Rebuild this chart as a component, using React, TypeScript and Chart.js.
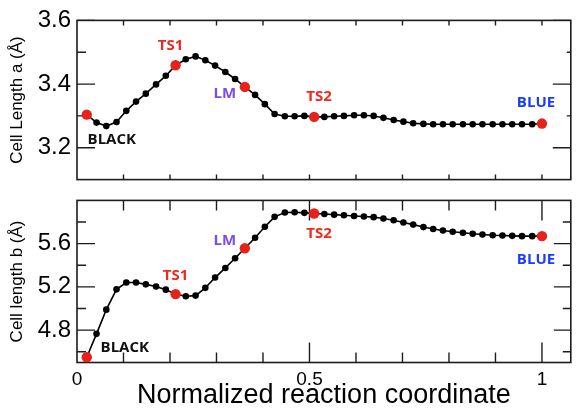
import React, { useEffect, useRef } from "react";
import { Chart, registerables } from "chart.js";

Chart.register(...registerables);

// ---------- data ----------
const coordX = [
  0.021, 0.042, 0.063, 0.085, 0.106, 0.127, 0.148, 0.170, 0.191, 0.212,
  0.234, 0.255, 0.276, 0.297, 0.319, 0.340, 0.361, 0.383, 0.404, 0.425,
  0.447, 0.468, 0.489, 0.510, 0.532, 0.553, 0.574, 0.596, 0.617, 0.638,
  0.659, 0.681, 0.702, 0.723, 0.745, 0.766, 0.787, 0.808, 0.830, 0.851,
  0.872, 0.894, 0.915, 0.936, 0.957, 0.979, 1.000,
];

const cellA = [
  3.304, 3.279, 3.268, 3.281, 3.316, 3.345, 3.370, 3.399, 3.426, 3.459,
  3.478, 3.487, 3.475, 3.458, 3.438, 3.416, 3.391, 3.366, 3.337, 3.306,
  3.299, 3.299, 3.300, 3.297, 3.297, 3.299, 3.300, 3.302, 3.302, 3.300,
  3.294, 3.287, 3.282, 3.277, 3.275, 3.274, 3.274, 3.274, 3.274, 3.274,
  3.274, 3.274, 3.274, 3.274, 3.274, 3.274, 3.276,
];

const cellB = [
  4.549, 4.765, 4.989, 5.177, 5.240, 5.240, 5.223, 5.203, 5.174, 5.133,
  5.113, 5.119, 5.191, 5.286, 5.375, 5.465, 5.557, 5.655, 5.756, 5.848,
  5.888, 5.891, 5.885, 5.879, 5.874, 5.868, 5.862, 5.856, 5.851, 5.845,
  5.833, 5.816, 5.796, 5.776, 5.753, 5.736, 5.721, 5.710, 5.701, 5.692,
  5.684, 5.678, 5.675, 5.672, 5.669, 5.669, 5.669,
];

const stateNames = ["BLACK", "TS1", "LM", "TS2", "BLUE"];
const stateIndex = [0, 9, 16, 23, 46];
const stateColors = ["#111111", "#ee2a1f", "#7a4cf2", "#ee2a1f", "#1a3cff"];

const xTickLabels = [0, 0.5, 1];
const xMajorTicks = [0.5, 1.0];
const xMinorTicks = [0.1, 0.2, 0.3, 0.4, 0.6, 0.7, 0.8, 0.9];
const aTickLabels = [3.2, 3.4, 3.6];
const aMinorTicks = [3.3, 3.5];
const bTickLabels = [4.8, 5.2, 5.6];
const bMinorTicks = [4.6, 5.0, 5.4, 5.8];

// ---------- styling ----------
const FONT = "'Liberation Sans', Arial, Helvetica, sans-serif";
const LABEL_FONT = "bold 15px 'Open Sans', 'DejaVu Sans', sans-serif";
const POINT_RED = "#e5231c";
const FRAME = "#1c1c1c";

type TickSpec = { values: number[]; len: number };
type LabelOffset = { dx: number; dy: number };
type FrameCfg = {
  xTop: TickSpec[];
  xBottom: TickSpec[];
  yLeft: TickSpec[];
  yRight: TickSpec[];
  ys: number[];
  offsets: LabelOffset[];
};

function framePlugin(cfg: FrameCfg) {
  return {
    id: "frame",
    beforeDatasetsDraw(chart: any) {
      const { ctx, chartArea } = chart;
      const { left, right, top, bottom } = chartArea;
      const xs = chart.scales.x;
      const yS = chart.scales.y;
      ctx.save();
      ctx.strokeStyle = FRAME;
      ctx.lineWidth = 1.4;
      ctx.beginPath();
      cfg.xTop.forEach((t) =>
        t.values.forEach((v) => {
          const p = xs.getPixelForValue(v);
          ctx.moveTo(p, top);
          ctx.lineTo(p, top + t.len);
        })
      );
      cfg.xBottom.forEach((t) =>
        t.values.forEach((v) => {
          const p = xs.getPixelForValue(v);
          ctx.moveTo(p, bottom);
          ctx.lineTo(p, bottom - t.len);
        })
      );
      cfg.yLeft.forEach((t) =>
        t.values.forEach((v) => {
          const p = yS.getPixelForValue(v);
          ctx.moveTo(left, p);
          ctx.lineTo(left + t.len, p);
        })
      );
      cfg.yRight.forEach((t) =>
        t.values.forEach((v) => {
          const p = yS.getPixelForValue(v);
          ctx.moveTo(right, p);
          ctx.lineTo(right - t.len, p);
        })
      );
      ctx.stroke();
      ctx.lineWidth = 1.6;
      ctx.strokeRect(left, top, right - left, bottom - top);
      ctx.restore();
    },
    afterDraw(chart: any) {
      const { ctx } = chart;
      const xs = chart.scales.x;
      const yS = chart.scales.y;
      ctx.save();
      ctx.font = LABEL_FONT;
      ctx.textAlign = "center";
      ctx.textBaseline = "middle";
      stateNames.forEach((name, k) => {
        const idx = stateIndex[k];
        const off = cfg.offsets[k];
        const px = xs.getPixelForValue(coordX[idx]) + off.dx;
        const py = yS.getPixelForValue(cfg.ys[idx]) + off.dy;
        ctx.fillStyle = stateColors[k];
        ctx.fillText(name, px, py);
      });
      ctx.restore();
    },
  };
}

function datasetsFor(ys: number[]) {
  return [
    {
      data: coordX.map((x, i) => ({ x, y: ys[i] })),
      showLine: true,
      borderColor: "#000",
      borderWidth: 1.6,
      tension: 0,
      pointRadius: 3.3,
      pointBackgroundColor: "#000",
      pointBorderWidth: 0,
      order: 2,
    },
    {
      data: stateIndex.map((i) => ({ x: coordX[i], y: ys[i] })),
      showLine: false,
      pointRadius: 5.2,
      pointBackgroundColor: POINT_RED,
      pointBorderWidth: 0,
      order: 1,
    },
  ];
}

function yAxis(min: number, max: number, labels: number[], title: string) {
  return {
    type: "linear",
    min,
    max,
    afterBuildTicks: (s: any) => {
      s.ticks = labels.map((v) => ({ value: v }));
    },
    afterFit: (s: any) => {
      s.width = 77;
    },
    grid: { display: false, drawTicks: false },
    border: { display: false },
    ticks: {
      font: { family: FONT, size: 24 },
      color: "#000",
      padding: 6,
      callback: (v: any) => Number(v).toFixed(1),
    },
    title: {
      display: true,
      text: title,
      color: "#000",
      font: { family: FONT, size: 17 },
      padding: { top: 7, bottom: 0 },
    },
  };
}

export default function App() {
  const topRef = useRef<HTMLCanvasElement | null>(null);
  const botRef = useRef<HTMLCanvasElement | null>(null);

  useEffect(() => {
    document.body.style.margin = "0";
    const top = new Chart(topRef.current as HTMLCanvasElement, {
      type: "scatter",
      data: { datasets: datasetsFor(cellA) as any },
      options: {
        responsive: false,
        animation: false,
        layout: { padding: { top: 15, right: 2, bottom: 11.5, left: 0 } },
        plugins: { legend: { display: false }, tooltip: { enabled: false } },
        scales: {
          x: { type: "linear", min: 0, max: 1.062, display: false },
          y: yAxis(3.1, 3.6, aTickLabels, "Cell Length a (Å)") as any,
        },
      },
      plugins: [
        framePlugin({
          xTop: [{ values: [...xMinorTicks, ...xMajorTicks], len: 5 }],
          xBottom: [{ values: [...xMinorTicks, ...xMajorTicks], len: 5 }],
          yLeft: [
            { values: aTickLabels, len: 18 },
            { values: aMinorTicks, len: 9 },
          ],
          yRight: [
            { values: aTickLabels, len: 18 },
            { values: aMinorTicks, len: 4 },
          ],
          ys: cellA,
          offsets: [
            { dx: 25, dy: 25 },
            { dx: -5, dy: -20 },
            { dx: -20, dy: 7 },
            { dx: 5, dy: -20 },
            { dx: -6, dy: -21 },
          ],
        }) as any,
      ],
    });

    const bot = new Chart(botRef.current as HTMLCanvasElement, {
      type: "scatter",
      data: { datasets: datasetsFor(cellB) as any },
      options: {
        responsive: false,
        animation: false,
        layout: { padding: { top: 8.5, right: 2, bottom: 0, left: 0 } },
        plugins: { legend: { display: false }, tooltip: { enabled: false } },
        scales: {
          x: {
            type: "linear",
            min: 0,
            max: 1.062,
            afterBuildTicks: (s: any) => {
              s.ticks = xTickLabels.map((v) => ({ value: v }));
            },
            afterFit: (s: any) => {
              s.height = 48.5;
            },
            grid: { display: false, drawTicks: false },
            border: { display: false },
            ticks: {
              font: { family: FONT, size: 19 },
              color: "#000",
              padding: 6,
              autoSkip: false,
              maxRotation: 0,
              callback: (v: any) => String(v),
            },
            title: {
              display: true,
              text: "Normalized reaction coordinate",
              color: "#000",
              font: { family: FONT, size: 27, lineHeight: 1.1 },
              padding: { top: 0, bottom: 1 },
            },
          } as any,
          y: yAxis(4.5, 6.0, bTickLabels, "Cell length b (Å)") as any,
        },
      },
      plugins: [
        framePlugin({
          xTop: [
            { values: xMinorTicks, len: 10 },
            { values: xMajorTicks, len: 20 },
          ],
          xBottom: [
            { values: xMinorTicks, len: 10 },
            { values: xMajorTicks, len: 20 },
          ],
          yLeft: [
            { values: bTickLabels, len: 18 },
            { values: bMinorTicks, len: 9 },
          ],
          yRight: [
            { values: bTickLabels, len: 17 },
            { values: bMinorTicks, len: 8 },
          ],
          ys: cellB,
          offsets: [
            { dx: 38, dy: -9 },
            { dx: 0, dy: -18 },
            { dx: -20, dy: -8 },
            { dx: 5, dy: 20 },
            { dx: -6, dy: 24 },
          ],
        }) as any,
      ],
    });

    return () => {
      top.destroy();
      bot.destroy();
    };
  }, []);

  return (
    <div style={{ position: "relative", width: 576, height: 411, background: "#fff" }}>
      <canvas
        ref={topRef}
        width={576}
        height={200}
        style={{ position: "absolute", left: 0, top: 0 }}
      />
      <canvas
        ref={botRef}
        width={576}
        height={231}
        style={{ position: "absolute", left: 0, top: 180 }}
      />
    </div>
  );
}
